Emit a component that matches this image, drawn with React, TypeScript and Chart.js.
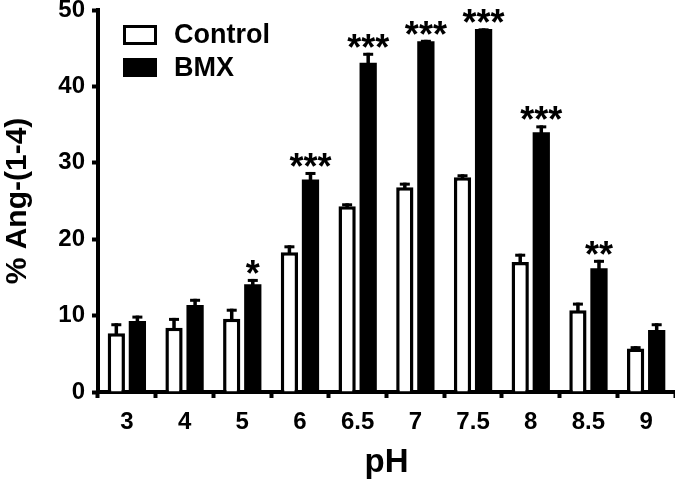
import React, { useEffect, useRef } from 'react';
import { Chart, registerables } from 'chart.js';

Chart.register(...registerables);

const categories = ['3', '4', '5', '6', '6.5', '7', '7.5', '8', '8.5', '9'];
const controlMean = [7.7, 8.4, 9.6, 18.3, 24.3, 26.8, 28.1, 17.0, 10.7, 5.7];
const controlSem = [1.3, 1.3, 1.3, 0.9, 0.4, 0.6, 0.4, 1.1, 1.0, 0.3];
const bmxMean = [9.3, 11.4, 14.1, 27.8, 43.1, 45.9, 47.5, 34.0, 16.2, 8.1];
const bmxSem = [0.7, 0.8, 0.7, 1.0, 1.3, 0.2, 0.1, 0.9, 1.1, 0.9];
const significance = ['', '', '*', '***', '***', '***', '***', '***', '**', ''];
const yTicks = [0, 10, 20, 30, 40, 50];

const FONT = "'Liberation Sans', Arial, Helvetica, sans-serif";

const overlayPlugin = {
  id: 'overlay',
  afterDatasetsDraw(chart: any) {
    const ctx = chart.ctx;
    const y = chart.scales.y;
    const errs = [controlSem, bmxSem];
    ctx.save();
    ctx.fillStyle = '#000';
    chart.data.datasets.forEach((ds: any, di: number) => {
      const meta = chart.getDatasetMeta(di);
      meta.data.forEach((bar: any, i: number) => {
        const v = ds.data[i];
        const top = y.getPixelForValue(v + errs[di][i]);
        const base = y.getPixelForValue(v);
        ctx.fillRect(bar.x - 1.75, top, 3.5, base - top + 1);
        ctx.fillRect(bar.x - 5, top, 10, 3);
      });
    });
    ctx.font = `bold 36px ${FONT}`;
    ctx.textAlign = 'center';
    ctx.textBaseline = 'alphabetic';
    const meta = chart.getDatasetMeta(1);
    significance.forEach((s, i) => {
      if (!s) return;
      const top = y.getPixelForValue(bmxMean[i] + bmxSem[i]);
      ctx.fillText(s, meta.data[i].x, top + 7);
    });
    ctx.restore();
  },
  afterDraw(chart: any) {
    const ctx = chart.ctx;
    const left = chart.chartArea.left;
    ctx.save();
    ctx.strokeStyle = '#000';
    ctx.fillStyle = '#000';
    ctx.lineWidth = 3;
    ctx.strokeRect(left + 26.5, 26.5, 31, 17);
    ctx.fillRect(left + 25, 58, 34, 19);
    ctx.font = `bold 27px ${FONT}`;
    ctx.textAlign = 'left';
    ctx.textBaseline = 'middle';
    ctx.fillText(chart.data.datasets[0].label, left + 76, 36);
    ctx.fillText(chart.data.datasets[1].label, left + 76, 69);
    ctx.restore();
  },
};

export default function App() {
  const ref = useRef<HTMLCanvasElement | null>(null);
  useEffect(() => {
    if (!ref.current) return;
    const chart = new Chart(ref.current, {
      type: 'bar',
      data: {
        labels: categories,
        datasets: [
          {
            label: 'Control',
            data: controlMean,
            backgroundColor: '#ffffff',
            borderColor: '#000000',
            borderWidth: 3.5,
            categoryPercentage: 0.73,
            barPercentage: 0.82,
          },
          {
            label: 'BMX',
            data: bmxMean,
            backgroundColor: '#000000',
            borderColor: '#000000',
            borderWidth: 0,
            categoryPercentage: 0.73,
            barPercentage: 0.82,
          },
        ],
      },
      options: {
        responsive: false,
        animation: false,
        layout: { padding: { top: 10, left: 0, right: 0, bottom: 0 } },
        plugins: {
          legend: { display: false },
          tooltip: { enabled: false },
        },
        scales: {
          x: {
            z: 1,
            grid: {
              drawOnChartArea: false,
              drawTicks: true,
              tickLength: 6,
              tickWidth: 4,
              tickColor: '#000',
            },
            border: { display: true, color: '#000', width: 4 },
            ticks: {
              color: '#000',
              padding: 12,
              font: { family: FONT, size: 24, weight: 'bold', lineHeight: 1 },
            },
            title: {
              display: true,
              text: 'pH',
              color: '#000',
              padding: { top: 0, bottom: 5 },
              font: { family: FONT, size: 33, weight: 'bold', lineHeight: 1 },
            },
            afterFit(scale: any) {
              scale.height = 92;
              scale.paddingLeft = 0;
              scale.paddingRight = 0;
            },
          },
          y: {
            z: 1,
            min: 0,
            max: 50,
            afterBuildTicks(scale: any) {
              scale.ticks = yTicks.map((v) => ({ value: v }));
            },
            grid: {
              drawOnChartArea: false,
              drawTicks: true,
              tickLength: 6,
              tickWidth: 4,
              tickColor: '#000',
            },
            border: { display: true, color: '#000', width: 4 },
            ticks: {
              color: '#000',
              padding: 7,
              font: { family: FONT, size: 24, weight: 'bold', lineHeight: 1 },
            },
            title: {
              display: true,
              text: '% Ang-(1-4)',
              color: '#000',
              padding: { top: 2.6, bottom: 0 },
              font: { family: FONT, size: 30, weight: 'bold', lineHeight: 1 },
            },
            afterFit(scale: any) {
              scale.width = 98;
              scale.paddingTop = 0;
              scale.paddingBottom = 0;
            },
          },
        },
      },
      plugins: [overlayPlugin],
    } as any);
    return () => chart.destroy();
  }, []);
  return (
    <canvas
      ref={ref}
      width={675}
      height={484}
      style={{ position: 'absolute', left: 0, top: 0, display: 'block' }}
    />
  );
}
